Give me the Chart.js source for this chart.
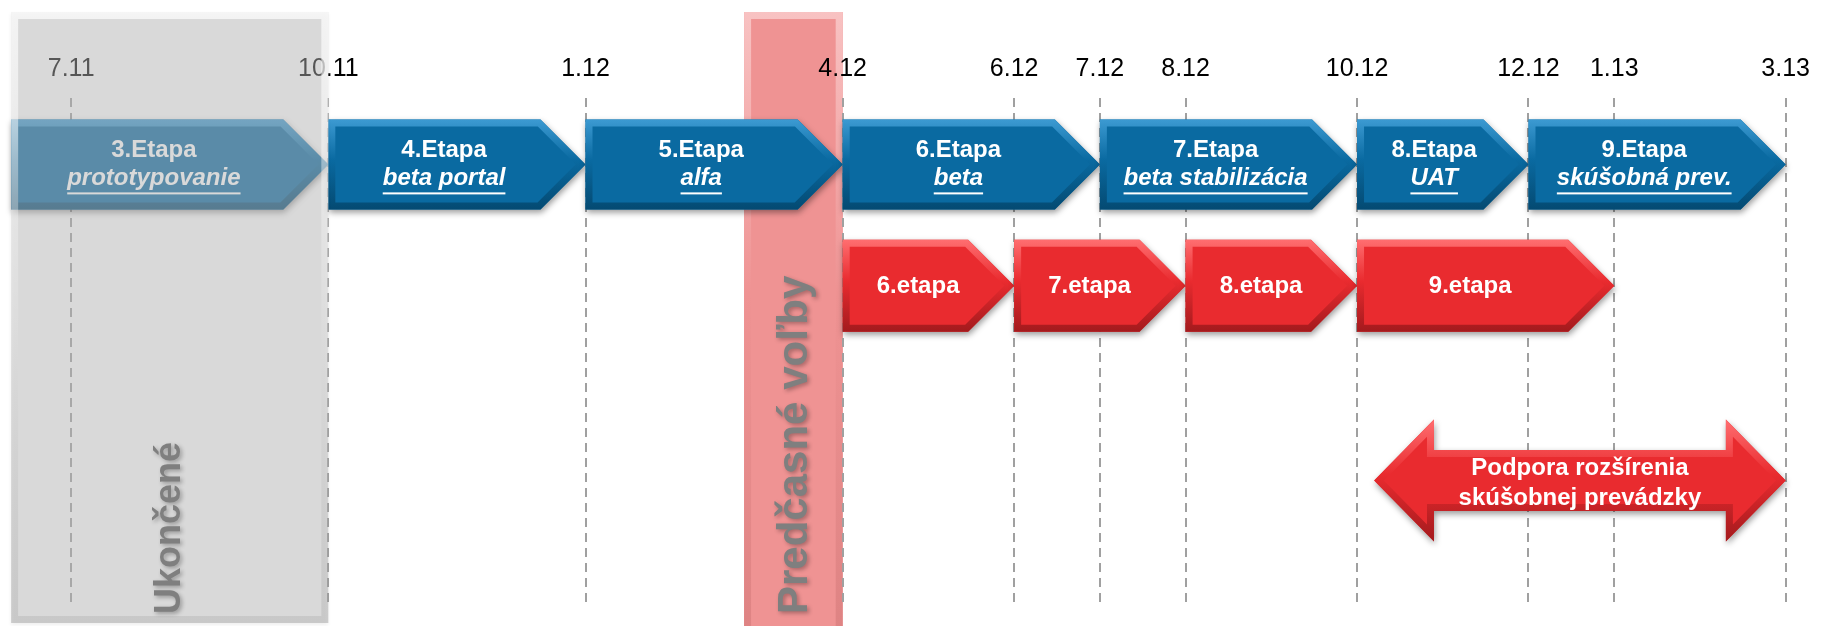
<!DOCTYPE html>
<html>
<head>
<meta charset="utf-8">
<script src="https://cdn.jsdelivr.net/npm/chart.js@4"></script>
<style>
html, body { margin: 0; padding: 0; background: #fff; }
#wrap { width: 1824px; height: 626px; position: relative; }
</style>
</head>
<body>
<div id="wrap"><canvas id="plan"></canvas></div>
<script>
// timeline in months since 7.2011
const tickMonths = [0, 3, 6, 9, 11, 12, 13, 15, 17, 18, 20];
const tickLabels = ['7.11', '10.11', '1.12', '4.12', '6.12', '7.12', '8.12', '10.12', '12.12', '1.13', '3.13'];

// main stages (blue)
const phaseNames = ['3.Etapa', '4.Etapa', '5.Etapa', '6.Etapa', '7.Etapa', '8.Etapa', '9.Etapa'];
const phaseSubtitles = ['prototypovanie', 'beta portal', 'alfa', 'beta', 'beta stabilizácia', 'UAT', 'skúšobná prev.'];
const phaseStart = [-0.7, 3, 6, 9, 12, 15, 17];
const phaseEnd = [3, 6, 9, 12, 15, 17, 20];

// parallel stages (red)
const parallelNames = ['6.etapa', '7.etapa', '8.etapa', '9.etapa'];
const parallelStart = [9, 11, 13, 15];
const parallelEnd = [11, 13, 15, 18];

// support of the trial run
const supportLines = ['Podpora rozšírenia', 'skúšobnej prevádzky'];
const supportStart = [15.2];
const supportEnd = [20];

// vertical bands
const bandNames = ['Ukončené', 'Predčasné voľby'];
const bandStart = [-0.7, 7.85];
const bandEnd = [3, 9];

const ROW = { phase: 1, parallel: 2.92, support: 6 };
const FONT = '"Liberation Sans", Arial, sans-serif';

const BLUE = { base: '#0A6AA1', light: '#3C9AD2', dark: '#044A72' };
const RED = { base: '#E92B2F', light: '#FF6E70', dark: '#A31A1D' };
const PINK = { base: '#EF9393', light: '#F8C2C2', dark: '#DE8383' };

function pentagonPath(ctx, l, r, t, b) {
    const cy = (t + b) / 2, d = (b - t) / 2;
    ctx.beginPath();
    ctx.moveTo(l, t);
    ctx.lineTo(r - d, t);
    ctx.lineTo(r, cy);
    ctx.lineTo(r - d, b);
    ctx.lineTo(l, b);
    ctx.closePath();
}

function doubleArrowPath(ctx, l, r, t, b) {
    const h = b - t, cy = (t + b) / 2, d = h * 0.49, s = h / 4;
    ctx.beginPath();
    ctx.moveTo(l, cy);
    ctx.lineTo(l + d, t);
    ctx.lineTo(l + d, cy - s);
    ctx.lineTo(r - d, cy - s);
    ctx.lineTo(r - d, t);
    ctx.lineTo(r, cy);
    ctx.lineTo(r - d, b);
    ctx.lineTo(r - d, cy + s);
    ctx.lineTo(l + d, cy + s);
    ctx.lineTo(l + d, b);
    ctx.closePath();
}

function rectPath(ctx, l, r, t, b) {
    ctx.beginPath();
    ctx.rect(l, t, r - l, b - t);
}

function drawBevelled(ctx, pathFn, l, r, t, b, pal, shadow) {
    ctx.save();
    pathFn(ctx, l, r, t, b);
    if (shadow) {
        ctx.shadowColor = 'rgba(0,0,0,0.4)';
        ctx.shadowBlur = 6;
        ctx.shadowOffsetX = 1;
        ctx.shadowOffsetY = 3;
    }
    ctx.fillStyle = pal.base;
    ctx.fill();
    ctx.restore();

    ctx.save();
    pathFn(ctx, l, r, t, b);
    ctx.clip();
    const g = ctx.createLinearGradient(0, t, 0, b);
    g.addColorStop(0, pal.light);
    g.addColorStop(0.45, pal.base);
    g.addColorStop(1, pal.dark);
    ctx.lineWidth = 14;
    ctx.lineJoin = 'miter';
    ctx.strokeStyle = g;
    ctx.stroke();
    ctx.restore();
}

function verticalText(ctx, text, x, bottom, size) {
    ctx.save();
    ctx.translate(x, bottom);
    ctx.rotate(-Math.PI / 2);
    ctx.font = 'bold ' + size + 'px ' + FONT;
    ctx.textAlign = 'left';
    ctx.textBaseline = 'middle';
    ctx.shadowColor = 'rgba(0,0,0,0.3)';
    ctx.shadowBlur = 4;
    ctx.shadowOffsetX = 2;
    ctx.shadowOffsetY = 2;
    ctx.fillStyle = '#7F7F7F';
    ctx.fillText(text, 0, 0);
    ctx.restore();
}

function barBox(el) {
    const p = el.getProps(['x', 'y', 'base', 'height'], true);
    return {
        l: Math.min(p.x, p.base), r: Math.max(p.x, p.base),
        t: p.y - p.height / 2, b: p.y + p.height / 2, cy: p.y
    };
}

const roadmapPlugin = {
    id: 'roadmap',
    beforeDraw(chart) {
        const ctx = chart.ctx, xs = chart.scales.x;
        const top = chart.chartArea.top - 86, bottom = chart.height;
        ctx.save();
        ctx.fillStyle = '#fff';
        ctx.fillRect(0, 0, chart.width, chart.height);
        ctx.restore();
        // election band sits under the grid
        const l = xs.getPixelForValue(bandStart[1]), r = xs.getPixelForValue(bandEnd[1]);
        drawBevelled(ctx, rectPath, l, r, top, bottom + 10, PINK, false);
        verticalText(ctx, bandNames[1], (l + r) / 2 + 2, bottom - 12, 42);
    },
    afterDatasetsDraw(chart) {
        const ctx = chart.ctx, xs = chart.scales.x;

        chart.data.datasets.forEach((ds, di) => {
            chart.getDatasetMeta(di).data.forEach((el, i) => {
                const bx = barBox(el);
                const w = bx.r - bx.l;
                ctx.save();
                ctx.fillStyle = '#fff';
                ctx.textAlign = 'center';
                ctx.textBaseline = 'middle';
                if (ds.shape === 'phase') {
                    drawBevelled(ctx, pentagonPath, bx.l, bx.r, bx.t, bx.b, BLUE, true);
                    const cx = bx.l + w * 0.45;
                    ctx.font = 'bold 24px ' + FONT;
                    ctx.fillText(phaseNames[i], cx, bx.cy - 14);
                    ctx.font = 'italic bold 24px ' + FONT;
                    ctx.fillText(phaseSubtitles[i], cx, bx.cy + 14);
                    const tw = ctx.measureText(phaseSubtitles[i]).width;
                    ctx.fillRect(cx - tw / 2, bx.cy + 28, tw, 2);
                } else if (ds.shape === 'parallel') {
                    drawBevelled(ctx, pentagonPath, bx.l, bx.r, bx.t, bx.b, RED, true);
                    ctx.font = 'bold 24px ' + FONT;
                    ctx.fillText(parallelNames[i], bx.l + w * 0.44, bx.cy + 1);
                } else {
                    drawBevelled(ctx, doubleArrowPath, bx.l, bx.r, bx.t, bx.b, RED, true);
                    ctx.font = 'bold 24px ' + FONT;
                    const cx = (bx.l + bx.r) / 2;
                    ctx.fillText(supportLines[0], cx, bx.cy - 12);
                    ctx.fillText(supportLines[1], cx, bx.cy + 18);
                }
                ctx.restore();
            });
        });

        // "finished" panel greys out everything under it
        const l = xs.getPixelForValue(bandStart[0]), r = xs.getPixelForValue(bandEnd[0]);
        const top = chart.chartArea.top - 86, bottom = chart.height - 3;
        ctx.save();
        ctx.shadowColor = 'rgba(0,0,0,0.15)';
        ctx.shadowBlur = 4;
        ctx.shadowOffsetY = 2;
        ctx.fillStyle = 'rgba(190,190,190,0.45)';
        ctx.fillRect(l, top, r - l, bottom - top);
        ctx.restore();
        ctx.save();
        rectPath(ctx, l, r, top, bottom);
        ctx.clip();
        const g = ctx.createLinearGradient(0, top, 0, bottom);
        g.addColorStop(0, 'rgba(255,255,255,0.7)');
        g.addColorStop(0.5, 'rgba(255,255,255,0.1)');
        g.addColorStop(1, 'rgba(0,0,0,0.08)');
        ctx.lineWidth = 14;
        ctx.strokeStyle = g;
        ctx.stroke();
        ctx.restore();
        verticalText(ctx, bandNames[0], (l + r) / 2, chart.height - 12, 36);
    }
};

const ctx = document.getElementById('plan').getContext('2d');
new Chart(ctx, {
    type: 'bar',
    data: {
        datasets: [{
            label: 'Etapy',
            shape: 'phase',
            data: phaseStart.map((s, i) => ({ x: [s, phaseEnd[i]], y: ROW.phase })),
            barThickness: 90
        }, {
            label: 'Súbežné etapy',
            shape: 'parallel',
            data: parallelStart.map((s, i) => ({ x: [s, parallelEnd[i]], y: ROW.parallel })),
            barThickness: 92
        }, {
            label: 'Podpora',
            shape: 'support',
            data: supportStart.map((s, i) => ({ x: [s, supportEnd[i]], y: ROW.support })),
            barThickness: 122
        }].map(ds => Object.assign(ds, {
            grouped: false,
            backgroundColor: 'rgba(0,0,0,0)',
            borderWidth: 0
        }))
    },
    options: {
        indexAxis: 'y',
        responsive: true,
        maintainAspectRatio: false,
        animation: false,
        events: [],
        layout: { padding: { top: 40, bottom: 19, left: 0, right: 0 } },
        scales: {
            x: {
                type: 'linear',
                position: 'top',
                min: -0.83,
                max: 20.4,
                afterBuildTicks: axis => {
                    axis.ticks = tickMonths.map(v => ({ value: v }));
                },
                ticks: {
                    autoSkip: false,
                    maxRotation: 0,
                    padding: 14,
                    color: '#000',
                    font: { family: FONT, size: 25 },
                    callback: (v, i) => tickLabels[i]
                },
                grid: { color: '#A0A0A0', lineWidth: 2, drawTicks: false },
                border: { display: false, dash: [9, 6] }
            },
            y: {
                type: 'linear',
                display: false,
                reverse: true,
                offset: false,
                grid: { offset: false },
                min: -0.05,
                max: 8
            }
        },
        plugins: {
            legend: { display: false },
            tooltip: { enabled: false }
        }
    },
    plugins: [roadmapPlugin]
});
</script>
</body>
</html>
